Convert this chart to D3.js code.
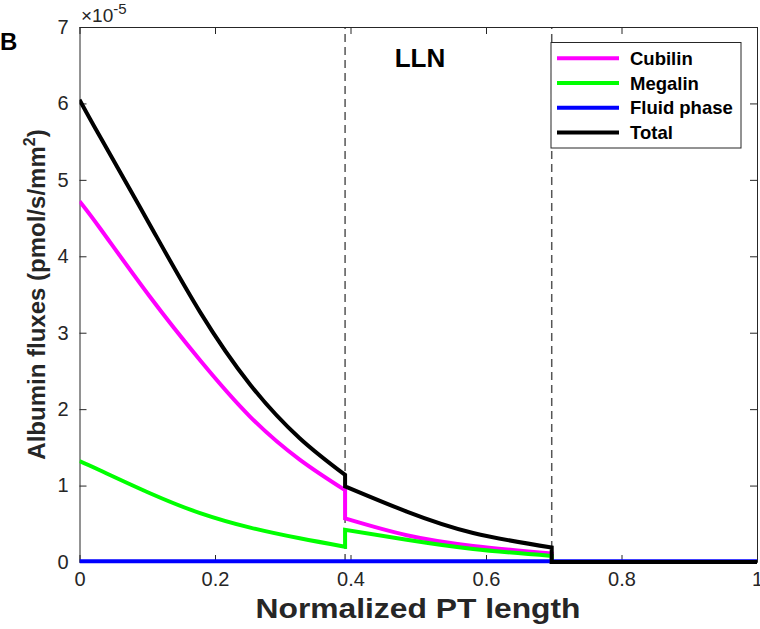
<!DOCTYPE html>
<html><head><meta charset="utf-8">
<script src="https://cdn.jsdelivr.net/npm/d3@7"></script>
<style>body{margin:0;background:#fff}svg{display:block}text{font-family:"Liberation Sans",Arial,sans-serif}</style>
</head><body>
<script>
// ---- data (values in units of 1e-5 pmol/s/mm^2) ----
const seg1X      = [0, 0.03, 0.104, 0.178, 0.252, 0.325, 0.392];
const cubilin1   = [4.72, 4.37, 3.47, 2.64, 1.90, 1.34, 0.94];
const megalin1   = [1.32, 1.20, 0.90, 0.64, 0.45, 0.31, 0.20];
const total1     = [6.05, 5.57, 4.41, 3.27, 2.32, 1.62, 1.14];
const seg2X      = [0.392, 0.483, 0.581, 0.697];
const cubilin2   = [0.57, 0.35, 0.21, 0.11];
const megalin2   = [0.42, 0.29, 0.17, 0.08];
const total2     = [0.99, 0.66, 0.38, 0.19];
const seg3X      = [0.697, 1.0];
const cubilin3   = [0, 0];
const megalin3   = [0, 0];
const total3     = [0, 0];
const fluidX     = [0, 1.0];
const fluid      = [0.01, 0.01];
const dividers   = [0.392, 0.697];
const xTicks     = [0, 0.2, 0.4, 0.6, 0.8, 1];
const xTickLabels= ["0", "0.2", "0.4", "0.6", "0.8", "1"];
const yTicks     = [0, 1, 2, 3, 4, 5, 6, 7];
const legendNames  = ["Cubilin", "Megalin", "Fluid phase", "Total"];
const legendColors = ["#ff00ff", "#00ff00", "#0000ff", "#000000"];

const W = 760, H = 629;
const m = {l: 79.5, r: 3, t: 27, b: 67};
const svg = d3.select("body").append("svg").attr("width", W).attr("height", H);
const x = d3.scaleLinear().domain([0, 1]).range([m.l, W - m.r]);
const y = d3.scaleLinear().domain([0, 7]).range([H - m.b, m.t]);
const axisColor = "#262626";

const line = d3.line().x(d => x(d[0])).y(d => y(d[1])).curve(d3.curveNatural);
function pathFor(segs) {
  return segs.map((s, i) => {
    const p = line(s[0].map((v, j) => [v, s[1][j]]));
    return i === 0 ? p : "L" + p.slice(1);
  }).join("");
}

const series = [
  {c: legendColors[0], segs: [[seg1X, cubilin1], [seg2X, cubilin2], [seg3X, cubilin3]]},
  {c: legendColors[1], segs: [[seg1X, megalin1], [seg2X, megalin2], [seg3X, megalin3]]},
  {c: legendColors[2], segs: [[fluidX, fluid]]},
  {c: legendColors[3], segs: [[seg1X, total1], [seg2X, total2], [seg3X, total3]]}
];

svg.append("clipPath").attr("id", "clip").append("rect")
  .attr("x", m.l).attr("y", m.t - 2).attr("width", W - m.r - m.l).attr("height", H - m.b - m.t + 4);

// dashed dividers
svg.append("g").selectAll("line").data(dividers).join("line")
  .attr("x1", d => x(d)).attr("x2", d => x(d)).attr("y1", y(0)).attr("y2", y(7))
  .attr("stroke", "#555").attr("stroke-width", 1.5).attr("stroke-dasharray", "8,5");

// axes
const gx = svg.append("g").attr("transform", `translate(0,${y(0)})`)
  .call(d3.axisBottom(x).tickValues(xTicks).tickFormat((d, i) => xTickLabels[i]).tickSizeInner(-7).tickSizeOuter(0).tickPadding(10));
const gxt = svg.append("g").attr("transform", `translate(0,${y(7)})`)
  .call(d3.axisTop(x).tickValues(xTicks).tickFormat("").tickSizeInner(-7).tickSizeOuter(0));
const gy = svg.append("g").attr("transform", `translate(${x(0)},0)`)
  .call(d3.axisLeft(y).tickValues(yTicks).tickFormat(d3.format("d")).tickSizeInner(-7).tickSizeOuter(0).tickPadding(11));
const gyr = svg.append("g").attr("transform", `translate(${x(1)},0)`)
  .call(d3.axisRight(y).tickValues(yTicks).tickFormat("").tickSizeInner(-7).tickSizeOuter(0));
[gx, gxt, gy, gyr].forEach(g => {
  g.selectAll("path,line").attr("stroke", axisColor).attr("stroke-width", 1);
  g.selectAll("text").attr("fill", axisColor).style("font-size", "20px");
});

// data lines
svg.append("g").attr("clip-path", "url(#clip)").selectAll("path").data(series).join("path")
  .attr("d", d => pathFor(d.segs)).attr("fill", "none").attr("stroke", d => d.c)
  .attr("stroke-width", 4).attr("stroke-linejoin", "miter");

// exponent
const ex = svg.append("text").attr("x", 81).attr("y", 22).attr("fill", axisColor).style("font-size", "19px");
ex.append("tspan").text("\u00d710");
ex.append("tspan").attr("dy", -8).style("font-size", "15px").text("-5");

// panel letter
svg.append("text").attr("x", 0).attr("y", 50).style("font-size", "24px").style("font-weight", "bold").text("B");

// LLN
svg.append("text").attr("x", 420).attr("y", 67).attr("text-anchor", "middle")
  .style("font-size", "26px").style("font-weight", "bold").text("LLN");

// axis titles
svg.append("text").attr("x", 418).attr("y", 618).attr("text-anchor", "middle")
  .style("font-size", "28px").style("font-weight", "bold").attr("fill", axisColor)
  .attr("textLength", 325).attr("lengthAdjust", "spacingAndGlyphs").text("Normalized PT length");
const yt = svg.append("text").attr("transform", `translate(45,${(y(0) + y(7)) / 2}) rotate(-90)`)
  .attr("text-anchor", "middle").style("font-size", "24px").style("font-weight", "bold").attr("fill", axisColor);
yt.append("tspan").text("Albumin fluxes (pmol/s/mm");
yt.append("tspan").attr("dy", -10).style("font-size", "16px").text("2");
yt.append("tspan").attr("dy", 10).text(")");

// legend
const lg = svg.append("g");
lg.append("rect").attr("x", 551).attr("y", 42.5).attr("width", 190).attr("height", 105.5)
  .attr("fill", "#fff").attr("stroke", axisColor).attr("stroke-width", 1);
const items = lg.selectAll("g.item").data(legendNames).join("g").attr("class", "item")
  .attr("transform", (d, i) => `translate(0,${58.3 + i * 24.7})`);
items.append("line").attr("x1", 557).attr("x2", 619).attr("y1", 0).attr("y2", 0)
  .attr("stroke", (d, i) => legendColors[i]).attr("stroke-width", 4);
items.append("text").attr("x", 630).attr("y", 6.5).style("font-size", "18.5px").style("font-weight", "bold")
  .text(d => d);
</script>
</body></html>
